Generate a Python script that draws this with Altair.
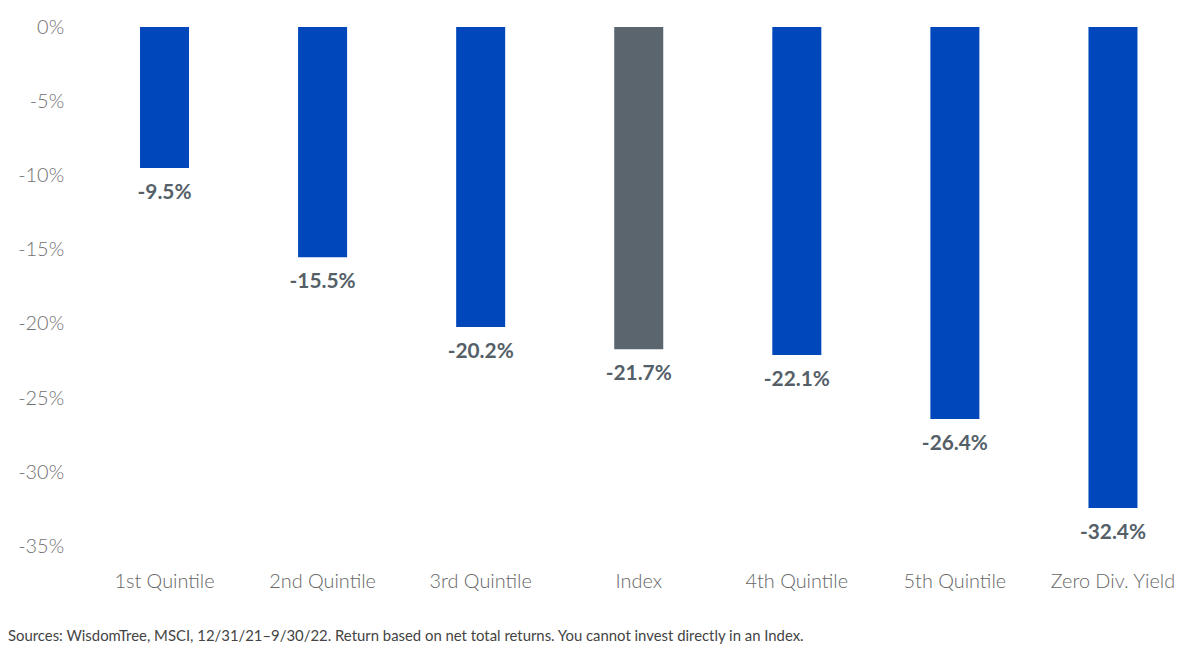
import altair as alt
import pandas as pd

categories = ["1st Quintile", "2nd Quintile", "3rd Quintile", "Index",
              "4th Quintile", "5th Quintile", "Zero Div. Yield"]
values = [-9.5, -15.5, -20.2, -21.7, -22.1, -26.4, -32.4]
groups = ["q", "q", "q", "i", "q", "q", "q"]
labels = ["-9.5%", "-15.5%", "-20.2%", "-21.7%", "-22.1%", "-26.4%", "-32.4%"]
y_ticks = [0, -5, -10, -15, -20, -25, -30, -35]
footer = "Sources: WisdomTree, MSCI, 12/31/21\u20139/30/22. Return based on net total returns. You cannot invest directly in an Index."

df = pd.DataFrame({"cat": categories, "val": values, "grp": groups, "lab": labels})

FONT = "Lato"

x = alt.X("cat:N", sort=categories, title=None,
          scale=alt.Scale(paddingInner=0.69, paddingOuter=0.345),
          axis=alt.Axis(orient="bottom", domain=False, ticks=False, labelAngle=0,
                        labelFont=FONT, labelFontSize=20, labelColor="#666666",
                        labelPadding=25, labelFontWeight=300))
y = alt.Y("val:Q", title=None,
          scale=alt.Scale(domain=[-35, 0], nice=False),
          axis=alt.Axis(values=y_ticks, domain=False, ticks=False, grid=False,
                        labelExpr="datum.value + '%'", labelFont=FONT,
                        labelFontSize=20, labelColor="#707070", labelPadding=22,
                        labelFontWeight=300))

bars = alt.Chart(df).mark_bar().encode(
    x=x, y=y,
    color=alt.Color("grp:N", scale=alt.Scale(domain=["q", "i"], range=["#0047BB", "#5A656E"]),
                    legend=None),
)

text = alt.Chart(df).mark_text(baseline="top", dy=14, font=FONT, fontSize=21,
                               fontWeight="bold", color="#555F68").encode(
    x=alt.X("cat:N", sort=categories), y="val:Q", text="lab:N")

chart = alt.layer(bars, text).properties(
    width=1114, height=523,
    title=alt.TitleParams(footer, orient="bottom", anchor="start", frame="group",
                          dx=-78, offset=38, font=FONT, fontSize=15, fontWeight="normal",
                          color="#444444"),
    autosize=alt.AutoSizeParams(type="none"),
    padding={"left": 78, "top": 17, "right": 0, "bottom": 115},
).configure_view(stroke=None)

chart.save("out.html", embed_options={"renderer": "svg", "actions": False})
